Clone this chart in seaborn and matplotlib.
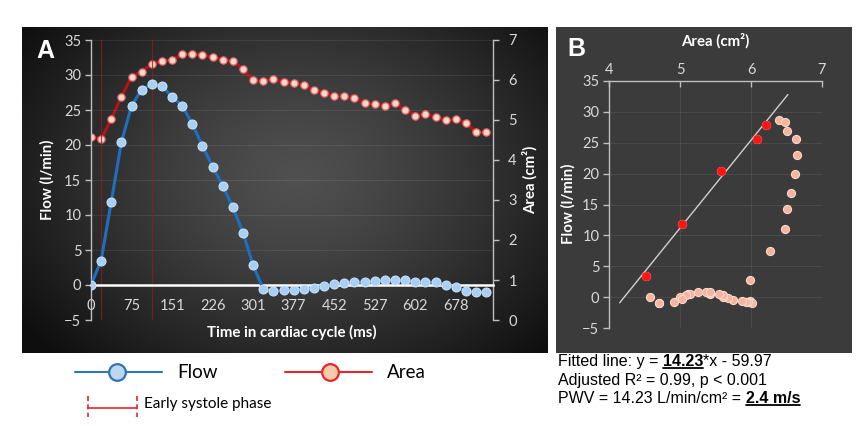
import numpy as np
import matplotlib
matplotlib.use("Agg")
import matplotlib.pyplot as plt
from matplotlib.lines import Line2D
import seaborn as sns

# ---------------- data ----------------
frame_ms = 18.83
flow = [0, 3.5, 11.9, 20.4, 25.6, 27.9, 28.7, 28.4, 26.9, 25.6,
        23.0, 19.9, 16.9, 14.2, 11.1, 7.5, 2.8, -0.6, -0.9, -0.75,
        -0.75, -0.55, -0.45, -0.2, 0.1, 0.35, 0.45, 0.5, 0.6, 0.75,
        0.75, 0.75, 0.5, 0.45, 0.4, 0.0, -0.35, -0.85, -1.0, -1.0]
area = [4.58, 4.52, 5.03, 5.58, 6.08, 6.21, 6.40, 6.48, 6.50, 6.64,
        6.65, 6.62, 6.57, 6.51, 6.48, 6.27, 5.99, 5.98, 6.02, 5.96,
        5.93, 5.87, 5.74, 5.68, 5.60, 5.61, 5.55, 5.42, 5.41, 5.36,
        5.42, 5.26, 5.11, 5.14, 5.08, 5.00, 5.03, 4.92, 4.70, 4.70]
time_labels = ["0", "75", "151", "226", "301", "377", "452", "527", "602", "678"]
label_every = 4
early_idx = [1, 2, 3, 4, 5]
early_line_idx = [1, 6]
fit_slope = 14.23
fit_intercept = -59.97
fit_x_range = [4.15, 6.52]

t = np.arange(len(flow)) * frame_ms
flow = np.array(flow)
area = np.array(area)

W, H = 859, 426
sns.set_theme(style="white")
plt.rcParams["font.family"] = ["Lato", "DejaVu Sans"]

fig = plt.figure(figsize=(W / 100, H / 100), dpi=100)
fig.patch.set_facecolor("white")


def fx(px):
    return px / W


def fy(py):
    return 1 - py / H


def rect(x0, y0, x1, y1):
    return [fx(x0), fy(y1), fx(x1) - fx(x0), fy(y0) - fy(y1)]


TICK_C = "#d9d9d9"
SPINE_C = "#bfbfbf"
GRID_KW = dict(color="white", alpha=0.08, lw=0.8)

# ---------------- panel A background (radial gradient) ----------------
bgA = fig.add_axes(rect(22, 27, 548, 353))
bw, bh = 526, 326
yy, xx = np.mgrid[0:bh, 0:bw]
d = np.sqrt(((xx - 275) / 330.0) ** 2 + ((yy - 150) / 250.0) ** 2)
v = np.clip(80 - 64 * d ** 1.3, 14, 255) / 255.0
bgA.imshow(np.dstack([v, v, v]), aspect="auto", interpolation="bilinear")
bgA.set_axis_off()

# ---------------- panel B background ----------------
bgB = fig.add_axes(rect(556, 27, 852, 353))
bgB.set_facecolor("#3b3b3b")
bgB.set_xticks([])
bgB.set_yticks([])
for s in bgB.spines.values():
    s.set_visible(False)

# ---------------- panel A ----------------
ax = fig.add_axes(rect(91, 40, 493, 320))
ax.set_facecolor("none")
ax.set_xlim(0, 747)
ax.set_ylim(-5, 35)
ax.set_yticks(np.arange(-5, 36, 5))
ax.yaxis.grid(True, **GRID_KW)
ax.set_axisbelow(True)

for i in early_line_idx:
    ax.axvline(t[i], color="#8a1f1f", lw=0.9, alpha=0.8, zorder=1)

ax2 = ax.twinx()
ax2.set_ylim(0, 7)
ax2.set_yticks(range(0, 8))

sns.lineplot(x=t, y=area, ax=ax2, color="#b51414", lw=2.1, marker="o",
             markersize=5.2, markerfacecolor="#fdd9cc", markeredgecolor="#ee6a6a",
             markeredgewidth=0.9, zorder=3)
sns.lineplot(x=t, y=flow, ax=ax, color="#1f6fbf", lw=2.2, marker="o",
             markersize=6.5, markerfacecolor="#a8d0f5", markeredgecolor="#cfe6fb",
             markeredgewidth=0.7, zorder=4)
ax.set_zorder(ax2.get_zorder() + 1)

ax.set_xlabel("")
ax.set_ylabel("")
ax2.set_ylabel("")
ax.set_xticks(t[::label_every][:len(time_labels)])
ax.set_xticklabels(time_labels)
ax.spines["bottom"].set_position(("data", 0))
ax.spines["bottom"].set_color("white")
ax.spines["bottom"].set_linewidth(1.8)
ax.spines["left"].set_color(SPINE_C)
ax.spines["left"].set_linewidth(1.0)
ax.spines["top"].set_visible(False)
ax.spines["right"].set_visible(False)
ax.tick_params(axis="x", length=0, pad=10, labelsize=10.5, labelcolor=TICK_C)
ax.tick_params(axis="y", left=True, length=4, width=1, color=SPINE_C, direction="out",
               labelsize=10.5, labelcolor=TICK_C, pad=3)
for s in ["left", "top", "bottom"]:
    ax2.spines[s].set_visible(False)
ax2.spines["right"].set_color(SPINE_C)
ax2.spines["right"].set_linewidth(1.0)
ax2.tick_params(axis="y", right=True, length=4, width=1, color=SPINE_C, direction="out",
                labelsize=10.5, labelcolor=TICK_C, pad=7)
ax2.grid(False)

title_kw = dict(color="white", fontweight="bold", fontsize=10.8, ha="center", va="center")
fig.text(fx(292), fy(332), "Time in cardiac cycle (ms)", **title_kw)
fig.text(fx(47), fy(180), "Flow (l/min)", rotation=90, **title_kw)
fig.text(fx(530), fy(180), "Area (cm²)", rotation=90, **title_kw)
fig.text(fx(45), fy(51), "A", color="white", fontweight="bold", fontsize=18,
         ha="center", va="center", family=["Liberation Sans"])

# ---------------- panel B ----------------
bx = fig.add_axes(rect(609, 81, 822, 328))
bx.set_facecolor("none")
bx.set_xlim(4, 7)
bx.set_ylim(-5, 35)
bx.set_xticks([4, 5, 6, 7])
bx.set_yticks(np.arange(-5, 36, 5))
bx.grid(True, **GRID_KW)
bx.set_axisbelow(True)

sns.scatterplot(x=area, y=flow, ax=bx, color="#f4b49e", edgecolor="#fcd8ca",
                linewidth=0.8, s=34, zorder=3)
sns.scatterplot(x=area[early_idx], y=flow[early_idx], ax=bx, color="#ff1414",
                edgecolor="#ff1414", linewidth=0.5, s=36, zorder=4)
fxs = np.array(fit_x_range)
bx.plot(fxs, fit_slope * fxs + fit_intercept, color="#d0d0d0", lw=1.0, zorder=2)

bx.set_xlabel("")
bx.set_ylabel("")
bx.xaxis.tick_top()
bx.spines["bottom"].set_visible(False)
bx.spines["right"].set_visible(False)
bx.spines["top"].set_color(SPINE_C)
bx.spines["left"].set_color(SPINE_C)
bx.spines["top"].set_linewidth(1.0)
bx.spines["left"].set_linewidth(1.0)
bx.tick_params(axis="x", top=True, bottom=False, length=4, width=1, color=SPINE_C,
               direction="in", labelsize=10.5, labelcolor=TICK_C, pad=3)
bx.tick_params(axis="y", left=True, length=4, width=1, color=SPINE_C, direction="out",
               labelsize=10.5, labelcolor=TICK_C, pad=3)

fig.text(fx(715), fy(41), "Area (cm²)", **title_kw)
fig.text(fx(568), fy(204), "Flow (l/min)", rotation=90, **title_kw)
fig.text(fx(576), fy(49), "B", color="white", fontweight="bold", fontsize=18,
         ha="center", va="center", family=["Liberation Sans"])

# ---------------- legend under A ----------------
fig.add_artist(Line2D([fx(75), fx(162)], [fy(372)] * 2, color="#2e75b6", lw=1.5))
fig.add_artist(Line2D([fx(117)], [fy(372)], marker="o", markersize=12,
                      markerfacecolor="#bdd7ee", markeredgecolor="#2e75b6",
                      markeredgewidth=1.6, lw=0))
fig.text(fx(177), fy(372), "Flow", fontsize=13.5, color="black", ha="left", va="center")
fig.add_artist(Line2D([fx(285), fx(372)], [fy(372)] * 2, color="#e8262a", lw=1.5))
fig.add_artist(Line2D([fx(330)], [fy(372)], marker="o", markersize=12,
                      markerfacecolor="#f8cbad", markeredgecolor="#e8262a",
                      markeredgewidth=1.6, lw=0))
fig.text(fx(387), fy(372), "Area", fontsize=13.5, color="black", ha="left", va="center")
for xp in (88, 137):
    fig.add_artist(Line2D([fx(xp)] * 2, [fy(396), fy(417)], color="#e8262a", lw=1.2,
                          ls=(0, (3, 2))))
fig.add_artist(Line2D([fx(88), fx(137)], [fy(408)] * 2, color="#e8262a", lw=1.2))
fig.text(fx(144), fy(404), "Early systole phase", fontsize=11, color="black",
         ha="left", va="center")

# ---------------- fit text under B ----------------
renderer = fig.canvas.get_renderer()
FS = 11.5
FAM = ["Liberation Sans"]


def text_width(s, bold=False):
    tt = fig.text(0, 0, s, fontsize=FS, family=FAM, fontweight="bold" if bold else "normal")
    w = tt.get_window_extent(renderer=renderer).width
    tt.remove()
    return w


space_w = text_width("x x") - text_width("xx")


def rich_line(x_px, base_px, parts):
    x = x_px
    for s, bold, under, gap in parts:
        x += gap * space_w
        tt = fig.text(fx(x), fy(base_px), s, fontsize=FS, family=FAM, color="black",
                      fontweight="bold" if bold else "normal", ha="left", va="baseline")
        w = tt.get_window_extent(renderer=renderer).width
        if under:
            fig.add_artist(Line2D([fx(x), fx(x + w)], [fy(base_px + 2.2)] * 2,
                                  color="black", lw=1.3))
        x += w


rich_line(558, 366, [("Fitted line: y =", False, False, 0),
                     ("14.23", True, True, 1),
                     ("*x - 59.97", False, False, 0)])
rich_line(558, 385, [("Adjusted R² = 0.99, p < 0.001", False, False, 0)])
rich_line(558, 403, [("PWV = 14.23 L/min/cm² =", False, False, 0),
                     ("2.4 m/s", True, True, 1)])

fig.savefig("out.png", dpi=100, facecolor="white")
